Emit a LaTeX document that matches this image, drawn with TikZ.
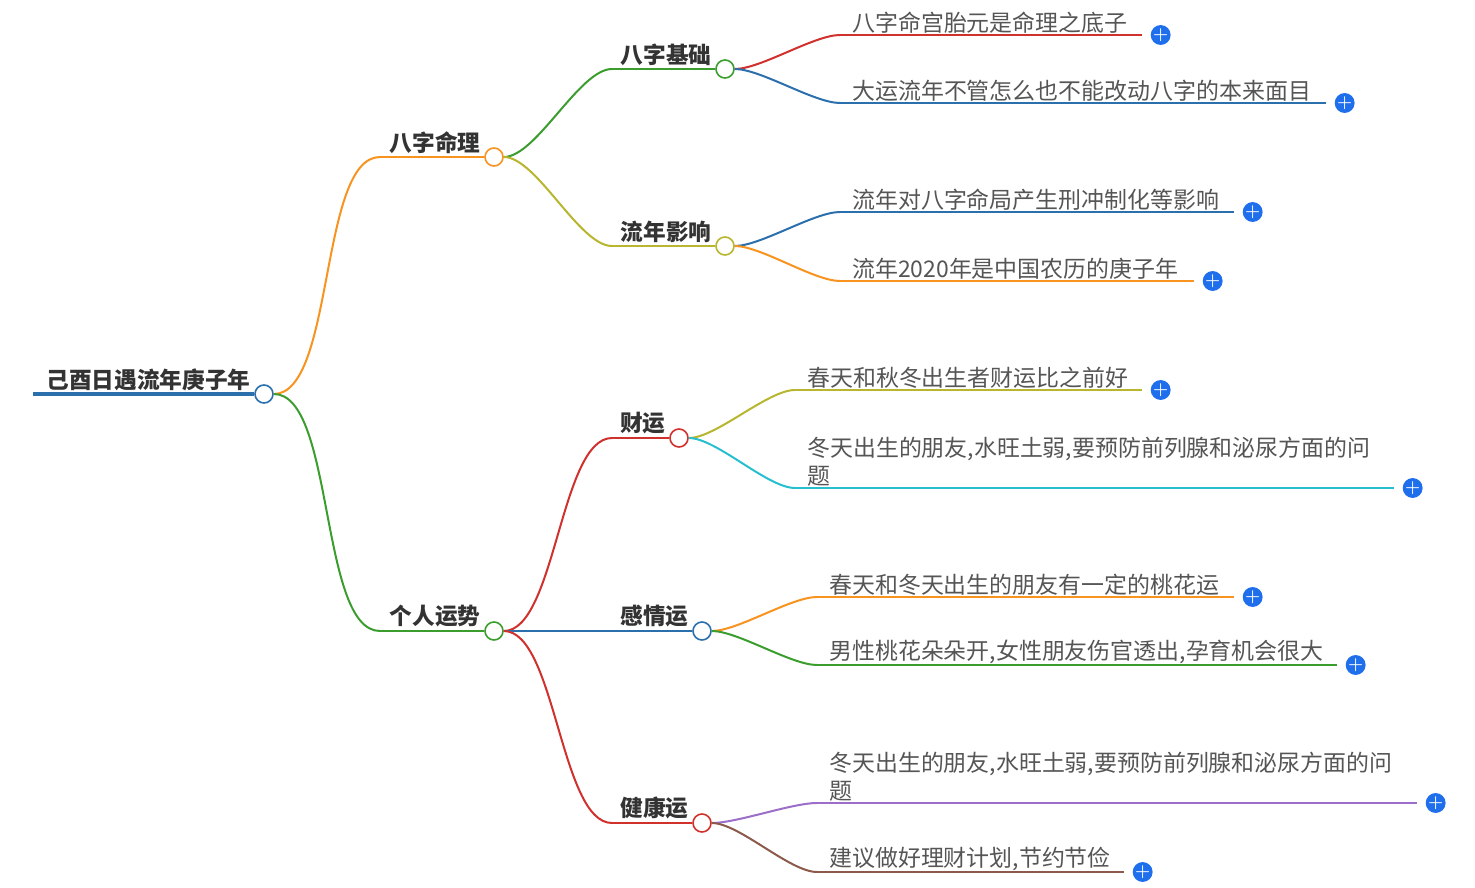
\documentclass[tikz,border=0pt]{standalone}
\usepackage{fontspec}
\newfontfamily\cjk{Noto Sans CJK SC}
\definecolor{cOrange}{HTML}{F7931E}
\definecolor{cGreen}{HTML}{3A9D2E}
\definecolor{cBlue}{HTML}{2B6FAD}
\definecolor{cRed}{HTML}{D0312D}
\definecolor{cOlive}{HTML}{B8B52E}
\definecolor{cCyan}{HTML}{27BFCF}
\definecolor{cPurple}{HTML}{9B6FC9}
\definecolor{cBrown}{HTML}{8B5A4A}
\definecolor{cPlus}{HTML}{1F6FEC}
\definecolor{cText}{HTML}{555555}
\tikzset{
  branch/.style={line width=1.5pt, out=0, in=180, looseness=0.6},
  knob/.style={circle, draw=#1, fill=white, line width=1.2pt, minimum size=13.5pt, inner sep=0pt},
  topic/.style={font=\cjk\bfseries\fontsize{17}{19}\selectfont, text=black!80, inner sep=1pt, anchor=south east},
  leaftext/.style={font=\cjk\fontsize{17.2}{21}\selectfont, text=cText, inner sep=1pt, anchor=south west, align=left},
  plus/.style={circle, fill=cPlus, minimum size=14pt, inner sep=0pt, text=white, font=\bfseries\fontsize{13}{13}\selectfont}
}
% leaf: name, colour, parent knob, start x, y, end x, text
\newcommand{\leafline}[7]{
  \coordinate (#1s) at (#4,#5);
  \coordinate (#1e) at (#6,#5);
  \draw[#2, branch] (#3) to (#1s);
  \draw[#2, line width=1.5pt] (#1s) -- (#1e);
  \node[leaftext] (#1t) at ([xshift=8pt]#1s) {#7};
  \node[plus] (#1p) at ([xshift=14pt]#1e) {+};
}
\begin{document}
\begin{tikzpicture}[x=0.75pt, y=-0.75pt]
  \useasboundingbox (0,0) rectangle (1475,888);

  % root
  \coordinate (roots) at (33,394);
  \node[knob=cBlue] (root) at (264,394) {};
  \draw[cBlue, line width=3pt] (roots) -- (root.west);
  \node[topic] (roott) at (252,392) {己酉日遇流年庚子年};

  % level one
  \node[knob=cOrange] (bz) at (494,157) {};
  \coordinate (bzs) at (380,157);
  \draw[cOrange, branch] (root) to (bzs);
  \draw[cOrange, line width=1.5pt] (bzs) -- (bz.west);
  \node[topic] (bzt) at (482,155) {八字命理};

  \node[knob=cGreen] (gr) at (494,631) {};
  \coordinate (grs) at (380,631);
  \draw[cGreen, branch] (root) to (grs);
  \draw[cGreen, line width=1.5pt] (grs) -- (gr.west);
  \node[topic] (grt) at (482,629) {个人运势};

  % level two
  \node[knob=cGreen] (jc) at (725,69) {};
  \coordinate (jcs) at (612,69);
  \draw[cGreen, branch] (bz) to (jcs);
  \draw[cGreen, line width=1.5pt] (jcs) -- (jc.west);
  \node[topic] (jct) at (713,67) {八字基础};

  \node[knob=cOlive] (ln) at (725,246) {};
  \coordinate (lns) at (612,246);
  \draw[cOlive, branch] (bz) to (lns);
  \draw[cOlive, line width=1.5pt] (lns) -- (ln.west);
  \node[topic] (lnt) at (713,244) {流年影响};

  \node[knob=cRed] (cy) at (679,438) {};
  \coordinate (cys) at (612,438);
  \draw[cRed, branch] (gr) to (cys);
  \draw[cRed, line width=1.5pt] (cys) -- (cy.west);
  \node[topic] (cyt) at (667,436) {财运};

  \node[knob=cBlue] (gq) at (702,631) {};
  \draw[cBlue, line width=1.5pt] (gr.east) -- (gq.west);
  \node[topic] (gqt) at (690,629) {感情运};

  \node[knob=cRed] (jk) at (702,823) {};
  \coordinate (jks) at (612,823);
  \draw[cRed, branch] (gr) to (jks);
  \draw[cRed, line width=1.5pt] (jks) -- (jk.west);
  \node[topic] (jkt) at (690,821) {健康运};

  % leaves
  \leafline{a}{cRed}{jc}{840}{35}{1142}{八字命宫胎元是命理之底子}
  \leafline{b}{cBlue}{jc}{840}{103}{1326}{大运流年不管怎么也不能改动八字的本来面目}
  \leafline{c}{cBlue}{ln}{840}{212}{1234}{流年对八字命局产生刑冲制化等影响}
  \leafline{d}{cOrange}{ln}{840}{281}{1194}{流年2020年是中国农历的庚子年}
  \leafline{e}{cOlive}{cy}{795}{390}{1142}{春天和秋冬出生者财运比之前好}
  \leafline{f}{cCyan}{cy}{795}{488}{1394}{冬天出生的朋友,水旺土弱,要预防前列腺和泌尿方面的问\\题}
  \leafline{g}{cOrange}{gq}{817}{597}{1234}{春天和冬天出生的朋友有一定的桃花运}
  \leafline{h}{cGreen}{gq}{817}{665}{1337}{男性桃花朵朵开,女性朋友伤官透出,孕育机会很大}
  \leafline{i}{cPurple}{jk}{817}{803}{1417}{冬天出生的朋友,水旺土弱,要预防前列腺和泌尿方面的问\\题}
  \leafline{j}{cBrown}{jk}{817}{872}{1124}{建议做好理财计划,节约节俭}
\end{tikzpicture}
\end{document}
